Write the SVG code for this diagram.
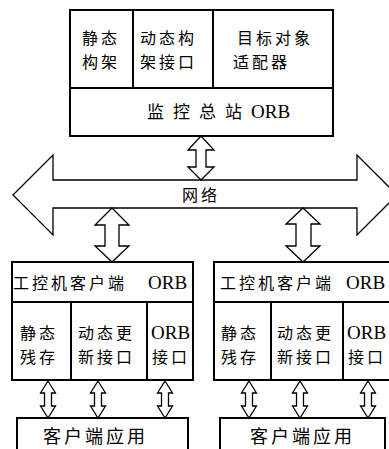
<svg xmlns="http://www.w3.org/2000/svg" width="389" height="449" viewBox="0 0 389 449">
<style>
.box{fill:#fff;stroke:#000;stroke-width:2}
.ln{stroke:#000;stroke-width:2;fill:none}
.arr{fill:#fff;stroke:#000;stroke-width:1.3;stroke-linejoin:miter}
.cn{font-family:"Noto Sans CJK SC","Liberation Serif",serif;font-size:16px;letter-spacing:3px;fill:#000}
.en{font-family:"Liberation Serif",serif;font-size:19px;fill:#000}
</style>
<rect width="389" height="449" fill="#fff"/>
<g id="master">
<rect class="box" x="70" y="10" width="263" height="126"/>
<line class="ln" x1="70" y1="88" x2="333" y2="88"/>
<line class="ln" x1="133" y1="10" x2="133" y2="88"/>
<line class="ln" x1="213" y1="10" x2="213" y2="88"/>
<text class="cn" x="82" y="44">静态</text>
<text class="cn" x="82" y="68">构架</text>
<text class="cn" x="140" y="44">动态构</text>
<text class="cn" x="140" y="68">架接口</text>
<text class="cn" x="237" y="44">目标对象</text>
<text class="cn" x="233" y="68">适配器</text>
<text class="cn" x="147" y="118" style="font-size:17px;letter-spacing:9px">监控总站</text>
<text class="en" x="251" y="118" font-size="17">ORB</text>
</g>
<g id="network">
<polygon class="arr" points="13,195 53,155 53,180 357,180 357,155 397,195 357,235 357,208 53,208 53,235"/>
<text class="cn" x="182" y="201">网络</text>
</g>
<g id="client1">
<rect class="box" x="12" y="262" width="181" height="118"/>
<line class="ln" x1="12" y1="302" x2="193" y2="302"/>
<line class="ln" x1="71" y1="302" x2="71" y2="380"/>
<line class="ln" x1="147" y1="302" x2="147" y2="380"/>
<text class="cn" x="13" y="289">工控机客户端</text>
<text class="en" x="148" y="289">ORB</text>
<text class="cn" x="20" y="339">静态</text>
<text class="cn" x="20" y="363">残存</text>
<text class="cn" x="78" y="339">动态更</text>
<text class="cn" x="78" y="363">新接口</text>
<text class="en" x="151" y="339">ORB</text>
<text class="cn" x="152" y="363">接口</text>
</g>
<g id="client2">
<rect class="box" x="214" y="262" width="180" height="118"/>
<line class="ln" x1="214" y1="302" x2="394" y2="302"/>
<line class="ln" x1="271" y1="302" x2="271" y2="380"/>
<line class="ln" x1="343" y1="302" x2="343" y2="380"/>
<text class="cn" x="220" y="289">工控机客户端</text>
<text class="en" x="346" y="289">ORB</text>
<text class="cn" x="221" y="339">静态</text>
<text class="cn" x="221" y="363">残存</text>
<text class="cn" x="277" y="339">动态更</text>
<text class="cn" x="277" y="363">新接口</text>
<text class="en" x="347" y="339">ORB</text>
<text class="cn" x="348" y="363">接口</text>
</g>
<g id="app1">
<rect class="box" x="17" y="418" width="171" height="40"/>
<text class="cn" x="43" y="443" style="font-size:18px;letter-spacing:3px">客户端应用</text>
</g>
<g id="app2">
<rect class="box" x="220" y="418" width="165" height="40"/>
<text class="cn" x="250" y="443" style="font-size:18px;letter-spacing:3px">客户端应用</text>
</g>
<g id="connectors">
<path class="arr" d="M201,136 L214,150 L206,150 L206,167 L214,167 L201,180 L188,167 L196,167 L196,150 L188,150 Z"/>
<path class="arr" d="M112,208 L129,225 L119,225 L119,246 L129,246 L112,262 L95,246 L105,246 L105,225 L95,225 Z"/>
<path class="arr" d="M303,208 L320,224 L311,224 L311,246 L320,246 L303,262 L286,246 L296,246 L296,224 L286,224 Z"/>
<path class="arr" d="M48,381 L55.5,393 L51.5,393 L51.5,406 L55.5,406 L48,418 L40.5,406 L44.5,406 L44.5,393 L40.5,393 Z"/>
<path class="arr" d="M98,381 L105.5,393 L101.5,393 L101.5,406 L105.5,406 L98,418 L90.5,406 L94.5,406 L94.5,393 L90.5,393 Z"/>
<path class="arr" d="M165,381 L172.5,393 L168.5,393 L168.5,406 L172.5,406 L165,418 L157.5,406 L161.5,406 L161.5,393 L157.5,393 Z"/>
<path class="arr" d="M249,381 L256.5,393 L252.5,393 L252.5,406 L256.5,406 L249,418 L241.5,406 L245.5,406 L245.5,393 L241.5,393 Z"/>
<path class="arr" d="M300,381 L307.5,393 L303.5,393 L303.5,406 L307.5,406 L300,418 L292.5,406 L296.5,406 L296.5,393 L292.5,393 Z"/>
<path class="arr" d="M368,381 L375.5,393 L371.5,393 L371.5,406 L375.5,406 L368,418 L360.5,406 L364.5,406 L364.5,393 L360.5,393 Z"/>
</g>
</svg>
